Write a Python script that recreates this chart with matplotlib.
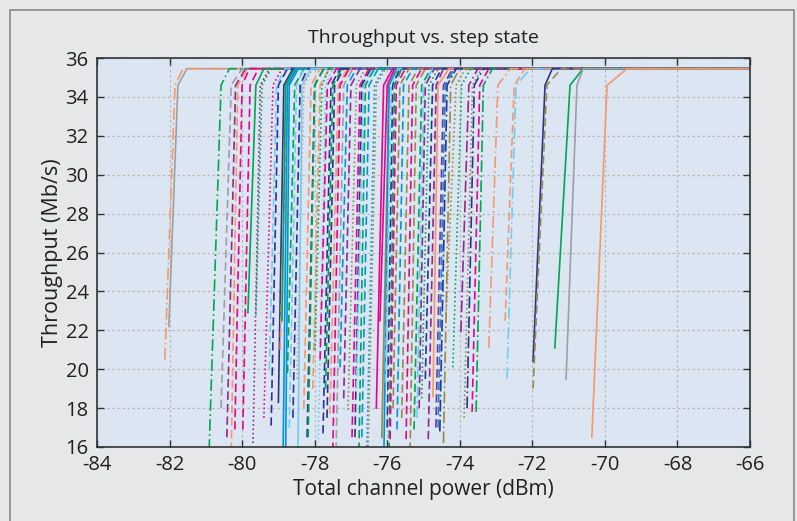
import matplotlib
matplotlib.use("Agg")
import matplotlib.pyplot as plt
from matplotlib.patches import Rectangle

plt.rcParams["font.family"] = ["Open Sans", "DejaVu Sans"]
plt.rcParams["axes.unicode_minus"] = False

# each curve: x at its lowest point, y there, x at the knee, x where it reaches the top
x_low = [-82.02, -82.13, -80.91, -80.58, -80.42, -80.30, -80.20, -79.98, -79.84, -79.70,
         -79.62, -79.40, -79.25, -79.20, -79.00, -78.95, -78.90, -78.87, -78.80, -78.75,
         -78.70, -78.60, -78.49, -78.46, -78.30, -78.21, -78.18, -78.05, -77.99, -77.90,
         -77.85, -77.77, -77.70, -77.66, -77.58, -77.50, -77.41, -77.30, -77.20, -77.08,
         -76.97, -76.89, -76.85, -76.78, -76.70, -76.56, -76.53, -76.30, -76.20, -76.15,
         -76.09, -76.05, -76.00, -75.95, -75.92, -75.84, -75.73, -75.60, -75.48, -75.37,
         -75.26, -75.18, -75.12, -75.05, -74.95, -74.87, -74.74, -74.66, -74.60, -74.55,
         -74.45, -74.38, -74.19, -73.97, -73.88, -73.80, -73.66, -73.55, -73.20, -72.75,
         -72.70, -71.98, -71.98, -71.38, -71.07, -70.36]
y_low = [22.2, 20.5, 15.8, 18.0, 16.5, 15.8, 16.9, 16.9, 22.9, 16.2,
         22.8, 17.5, 20.0, 17.1, 18.3, 21.0, 22.5, 15.8, 15.8, 19.8,
         17.0, 17.5, 19.5, 15.8, 18.0, 16.5, 16.5, 19.0, 21.0, 16.4,
         20.5, 16.7, 19.0, 17.5, 17.7, 15.8, 15.8, 20.1, 18.5, 17.9,
         16.5, 16.5, 19.0, 15.8, 16.5, 15.8, 15.8, 18.0, 22.5, 16.5,
         15.8, 19.3, 17.0, 15.8, 16.4, 18.0, 16.9, 17.5, 16.4, 15.8,
         16.9, 17.5, 18.0, 18.5, 19.5, 16.4, 18.6, 17.0, 17.0, 16.8,
         16.2, 22.8, 20.1, 21.9, 17.5, 18.0, 17.8, 17.8, 21.1, 22.5,
         19.5, 20.4, 19.0, 21.1, 19.5, 16.5]
x_knee = [-81.77, -81.85, -80.58, -80.30, -80.18, -80.12, -80.00, -79.78, -79.62, -79.50,
          -79.45, -79.15, -79.05, -79.00, -78.85, -78.75, -78.80, -78.75, -78.70, -78.55,
          -78.50, -78.40, -78.30, -78.35, -78.10, -78.00, -78.00, -77.85, -77.80, -77.70,
          -77.65, -77.55, -77.50, -77.45, -77.35, -77.30, -77.20, -77.10, -77.00, -76.85,
          -76.75, -76.70, -76.65, -76.60, -76.50, -76.35, -76.30, -76.10, -76.00, -75.95,
          -75.95, -75.90, -75.85, -75.80, -75.75, -75.65, -75.55, -75.40, -75.30, -75.20,
          -75.05, -75.00, -74.95, -74.85, -74.75, -74.65, -74.60, -74.45, -74.40, -74.35,
          -74.25, -74.10, -73.95, -73.75, -73.65, -73.60, -73.45, -73.35, -72.95, -72.50,
          -72.45, -71.65, -71.60, -70.96, -70.77, -69.94]
x_top = [-81.52, -81.63, -80.35, -80.00, -79.90, -79.85, -79.80, -79.55, -79.40, -79.25,
         -79.20, -78.90, -78.80, -78.75, -78.60, -78.50, -78.55, -78.50, -78.45, -78.30,
         -78.30, -78.20, -78.05, -78.10, -77.85, -77.75, -77.75, -77.60, -77.60, -77.50,
         -77.40, -77.30, -77.25, -77.20, -77.10, -77.05, -76.95, -76.85, -76.75, -76.60,
         -76.50, -76.45, -76.40, -76.35, -76.25, -76.10, -76.05, -75.85, -75.80, -75.70,
         -75.75, -75.70, -75.65, -75.60, -75.50, -75.40, -75.30, -75.15, -75.05, -74.95,
         -74.80, -74.75, -74.70, -74.60, -74.50, -74.45, -74.30, -74.20, -74.15, -74.10,
         -74.00, -73.85, -73.70, -73.50, -73.40, -73.35, -73.20, -73.10, -72.60, -72.20,
         -72.05, -71.45, -71.20, -70.60, -70.60, -69.39]
colors = ["gray", "salmon", "green", "gray", "purple", "salmon", "pink", "pink", "green", "purple",
          "green", "pink", "lightblue", "navy", "navy", "salmon", "green", "blue", "blue", "green",
          "lightblue", "navy", "salmon", "lightblue", "salmon", "navy", "green", "salmon", "green", "lightblue",
          "pink", "navy", "green", "navy", "salmon", "pink", "gray", "blue", "purple", "olive",
          "pink", "navy", "lightblue", "green", "blue", "blue", "olive", "pink", "pink", "olive",
          "blue", "lightblue", "navy", "green", "pink", "olive", "blue", "olive", "pink", "olive",
          "green", "lightblue", "purple", "green", "navy", "purple", "salmon", "purple", "blue", "navy",
          "olive", "olive", "green", "purple", "olive", "navy", "pink", "green", "salmon", "salmon",
          "lightblue", "navy", "olive", "green", "gray", "salmon"]
styles = ["-", "-.", "-.", "--", "--", "--", "--", "--", "-", ":",
          ":", ":", "--", "--", "-", "--", "-", "-", "-", "--",
          "--", "--", ":", "-", "--", "--", "--", "--", ":", ":",
          "--", "--", "--", "--", "--", "--", "--", "--", "--", ":",
          "--", "--", "--", "--", "--", ":", ":", "-", "-", "-",
          "-", "--", "--", "--", "--", "--", "--", "--", "--", "--",
          "--", "-.", "--", ":", "--", "--", "-", "--", "--", "-.",
          "-.", ":", ":", "-.", ":", "-.", "--", "-.", "-.", "--",
          "-.", "-", "--", "-", "-", "-"]
knee_y = 34.6
top_y = 35.45
x_end = -66

palette = {"gray": "#9d9fa2", "salmon": "#f7976a", "green": "#00a651", "purple": "#92278f",
           "pink": "#ec008c", "navy": "#2e3192", "blue": "#0095da", "lightblue": "#6dcff6",
           "olive": "#998a4a"}
dashes = {"-": "-", "--": (0, (5, 2.5)), ":": (0, (1, 1.6)), "-.": (0, (7, 2, 1, 2))}

fig = plt.figure(figsize=(7.97, 5.21), dpi=100, facecolor="#e6e7e8")
fig.patches.append(Rectangle((10 / 797, -0.02), 784 / 797, 1.01 - 5 / 521, transform=fig.transFigure,
                             fill=False, edgecolor="#8a8a8a", lw=1.2))
ax = fig.add_axes([97 / 797, 1 - 447 / 521, 653 / 797, 389 / 521])
ax.set_facecolor("#dce6f2")

for i in range(len(x_low)):
    xs = [x_low[i], x_knee[i], x_top[i], x_end]
    ys = [y_low[i], knee_y, top_y, top_y]
    ax.plot(xs, ys, color=palette[colors[i]], linestyle=dashes[styles[i]], lw=1.2)

ax.set_xlim(-84, -66)
ax.set_ylim(16, 36)
ax.set_xticks(range(-84, -65, 2))
ax.set_yticks(range(16, 37, 2))
ax.grid(True, color="#b9b9b9", linestyle=(0, (2, 2)), lw=0.9)
ax.set_axisbelow(True)
ax.tick_params(direction="in", length=5, width=1, top=True, right=True,
               labelsize=14.5, colors="#333333", labelcolor="#231f20", pad=6)
for s in ax.spines.values():
    s.set_color("#333333")
    s.set_linewidth(1.2)

ax.set_title("Throughput vs. step state", fontsize=14, color="#231f20", pad=11)
ax.set_xlabel("Total channel power (dBm)", fontsize=15, color="#231f20", labelpad=3)
ax.set_ylabel("Throughput (Mb/s)", fontsize=15.5, color="#231f20", labelpad=2)

fig.savefig("out.png", dpi=100, facecolor=fig.get_facecolor())
